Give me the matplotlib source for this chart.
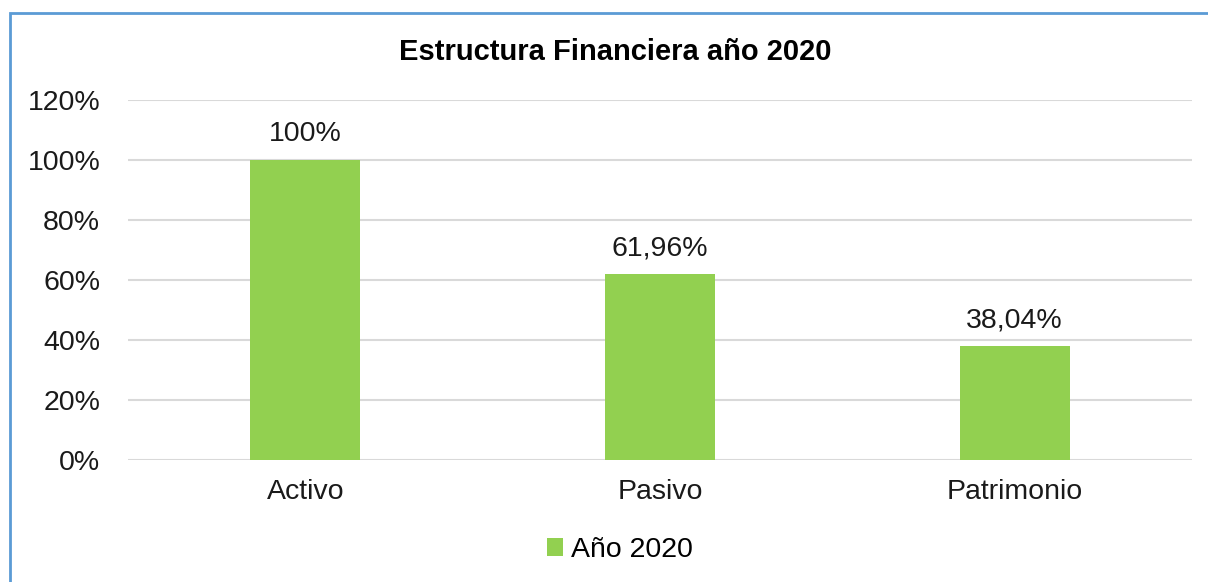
import matplotlib.pyplot as plt
from matplotlib.patches import Rectangle
from matplotlib.ticker import FuncFormatter

# datos
categorias = ["Activo", "Pasivo", "Patrimonio"]
valores = [100.0, 61.96, 38.04]
etiquetas = ["100%", "61,96%", "38,04%"]
serie = "Año 2020"

plt.rcParams['font.family'] = ['Liberation Sans', 'DejaVu Sans']

fig = plt.figure(figsize=(12.08, 5.82), dpi=100)
ax = fig.add_axes([128 / 1208, 1 - 460 / 582, (1192 - 128) / 1208, 360 / 582])

x = range(len(categorias))
bars = ax.bar(x, valores, width=0.31, color="#92D050", label=serie, zorder=3)

for b, txt in zip(bars, etiquetas):
    ax.annotate(txt, (b.get_x() + b.get_width() / 2, b.get_height()),
                xytext=(0, 9), textcoords="offset points",
                ha="center", va="bottom", fontsize=20.5, color="#1a1a1a")

ax.set_xlim(-0.5, len(categorias) - 0.5)
ax.set_ylim(0, 120)
ax.set_yticks(range(0, 121, 20))
ax.yaxis.set_major_formatter(FuncFormatter(lambda v, p: f"{int(v)}%"))
ax.set_xticks(list(x))
ax.set_xticklabels(categorias)
ax.tick_params(axis="both", length=0, labelsize=20.5, colors="#1a1a1a")
ax.tick_params(axis="y", pad=20)
ax.tick_params(axis="x", pad=14)
ax.grid(axis="y", color="#D9D9D9", linewidth=1.5, zorder=0)
for s in ax.spines.values():
    s.set_visible(False)

fig.text(615 / 1208, 1 - 52 / 582, "Estructura Financiera año 2020",
         ha="center", va="center", fontsize=21, fontweight="bold")

fig.legend(handles=[bars], labels=[serie], loc="center",
           bbox_to_anchor=(620 / 1208, 1 - 550 / 582), frameon=False,
           fontsize=20.5, handlelength=0.55, handleheight=0.55, handletextpad=0.3)

# borde del grafico
fig.patches.append(Rectangle((10 / 1208, -0.1), 1.2, 1 - 13 / 582 + 0.1,
                             transform=fig.transFigure, fill=False,
                             edgecolor="#5B9BD5", linewidth=2))

fig.savefig("out.png", dpi=100)
